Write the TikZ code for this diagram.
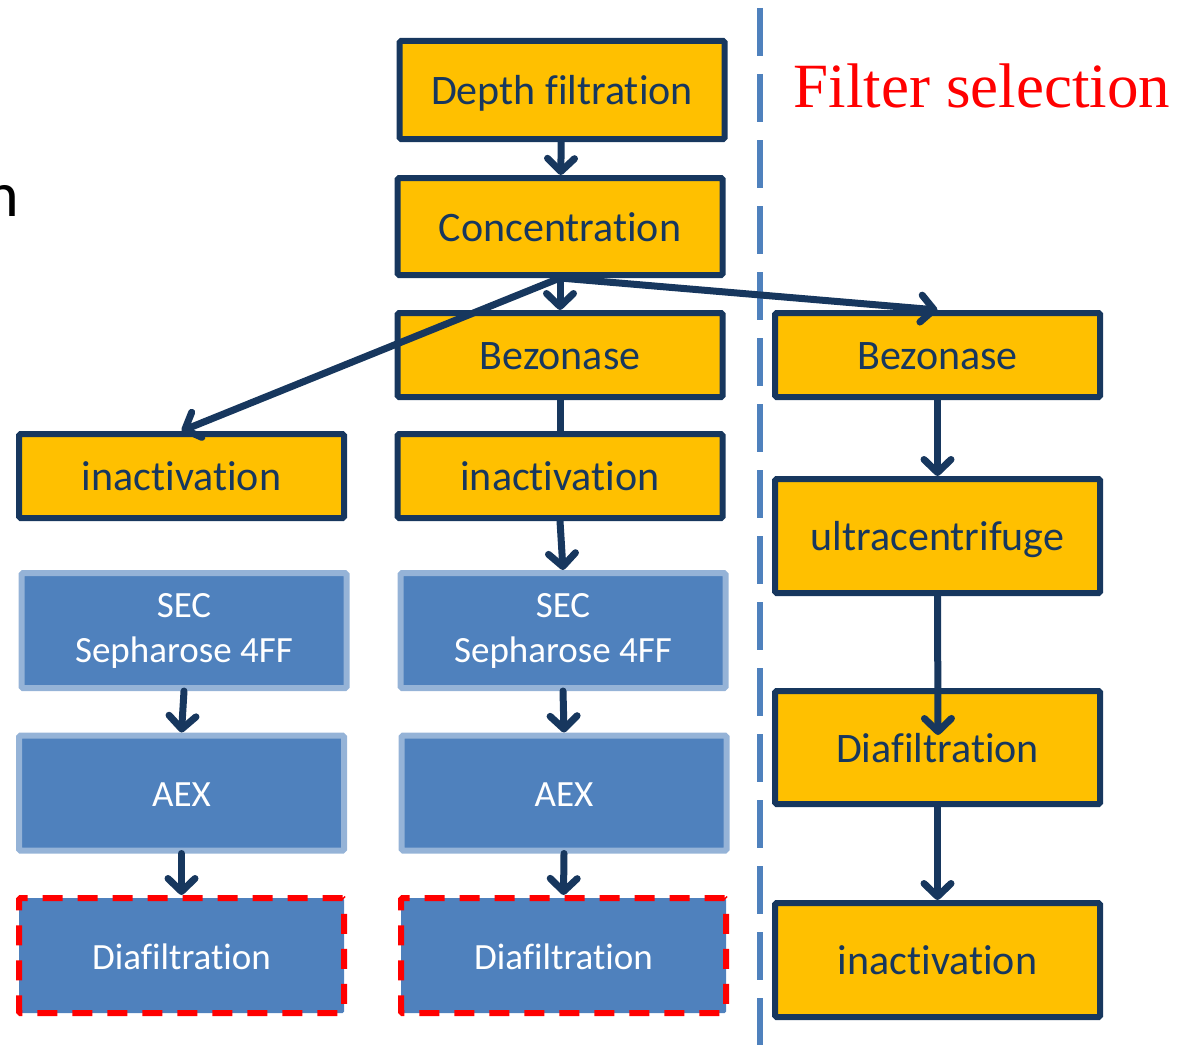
\documentclass[tikz,border=0pt]{standalone}
\usepackage{fontspec}
\setmainfont{Carlito}[Ligatures=NoCommon]
\newfontfamily\titlefont{Liberation Serif}
\usetikzlibrary{arrows.meta}
\definecolor{boxyellow}{HTML}{FFC000}
\definecolor{navy}{HTML}{17375E}
\definecolor{stepblue}{HTML}{4F81BD}
\definecolor{paleblue}{HTML}{95B3D7}
\begin{document}
\begin{tikzpicture}[x=1pt,y=-1pt,
  yellowbox/.style={draw=navy,fill=boxyellow,line width=6pt,rounded corners=1.5pt,
    minimum width=325pt,inner sep=0pt,text height=29pt,text depth=0pt,
    text=navy,font=\fontsize{42}{48}\selectfont},
  bluebox/.style={draw=paleblue,fill=stepblue,line width=6pt,rounded corners=1.5pt,
    minimum width=325pt,minimum height=115pt,inner sep=0pt,align=center,
    text=white,font=\fontsize{37}{45}\selectfont},
  oneline/.style={text height=27pt,text depth=0pt},
  checkbox/.style={bluebox,oneline,draw=red,line width=6pt,dash pattern=on 20pt off 15pt},
  flow/.style={-{Straight Barb[length=13pt,width=27pt,round]},draw=navy,line width=7pt,line cap=round},
  link/.style={draw=navy,line width=7pt},
  divider/.style={draw=stepblue,line width=6pt,dash pattern=on 48pt off 18pt}]
\useasboundingbox (0,0) rectangle (1182,1062);
\begin{scope}
  \clip (0,0) rectangle (1182,1062);
  \node[anchor=base east,inner sep=0pt,font=\fontsize{64}{70}\selectfont] (cut) at (19,216) {n};
\end{scope}
% middle column
\node[yellowbox,minimum height=98pt] (depth) at (562,90) {Depth filtration};
\node[yellowbox,minimum height=97pt] (conc) at (560,226.5) {Concentration};
\node[yellowbox,minimum height=84pt] (bezM) at (560,355) {Bezonase};
\node[yellowbox,minimum height=84pt] (inactM) at (560,476) {inactivation};
\node[bluebox,yshift=-4pt] (secM) at (563,626.5) {SEC\\Sepharose 4FF};
\node[bluebox,oneline] (aexM) at (564,793) {AEX};
\node[checkbox] (diaM) at (563.5,955.5) {Diafiltration};
% left column
\node[yellowbox,minimum height=84pt] (inactL) at (181.5,476) {inactivation};
\node[bluebox,yshift=-4pt] (secL) at (184,626.5) {SEC\\Sepharose 4FF};
\node[bluebox,oneline] (aexL) at (181.5,793) {AEX};
\node[checkbox] (diaL) at (181.5,955.5) {Diafiltration};
% filter selection
\draw[divider] (760,8) -- (760,1045);
\node[anchor=base,text=red,font=\titlefont\fontsize{63}{70}\selectfont] (title) at (982,108) {Filter selection};
\node[yellowbox,minimum height=84pt] (bezR) at (937.5,355) {Bezonase};
\node[yellowbox,minimum height=114pt] (ultra) at (937.5,536) {ultracentrifuge};
\node[yellowbox,minimum height=113pt] (diaR) at (937.5,747.5) {Diafiltration};
\node[yellowbox,minimum height=114pt] (inactR) at (937.5,960) {inactivation};
\coordinate (diaRin) at (938,735);
% connectors
\draw[flow] (depth) -- (conc);
\draw[flow] (conc) -- (bezM);
\draw[flow] (conc.south) -- (inactL.north);
\draw[flow] (conc.south) -- (bezR.north);
\draw[link] (bezM) -- (inactM);
\draw[flow] (inactM.south) -- (secM.north);
\draw[flow] (secL.south) -- (aexL.north);
\draw[flow] (secM.south) -- (aexM.north);
\draw[flow] (aexL.south) -- (diaL.north);
\draw[flow] (aexM.south) -- (diaM.north);
\draw[flow] (bezR) -- (ultra);
\draw[flow] (ultra.south) -- (diaRin);
\draw[flow] (diaR) -- (inactR);
\end{tikzpicture}
\end{document}
